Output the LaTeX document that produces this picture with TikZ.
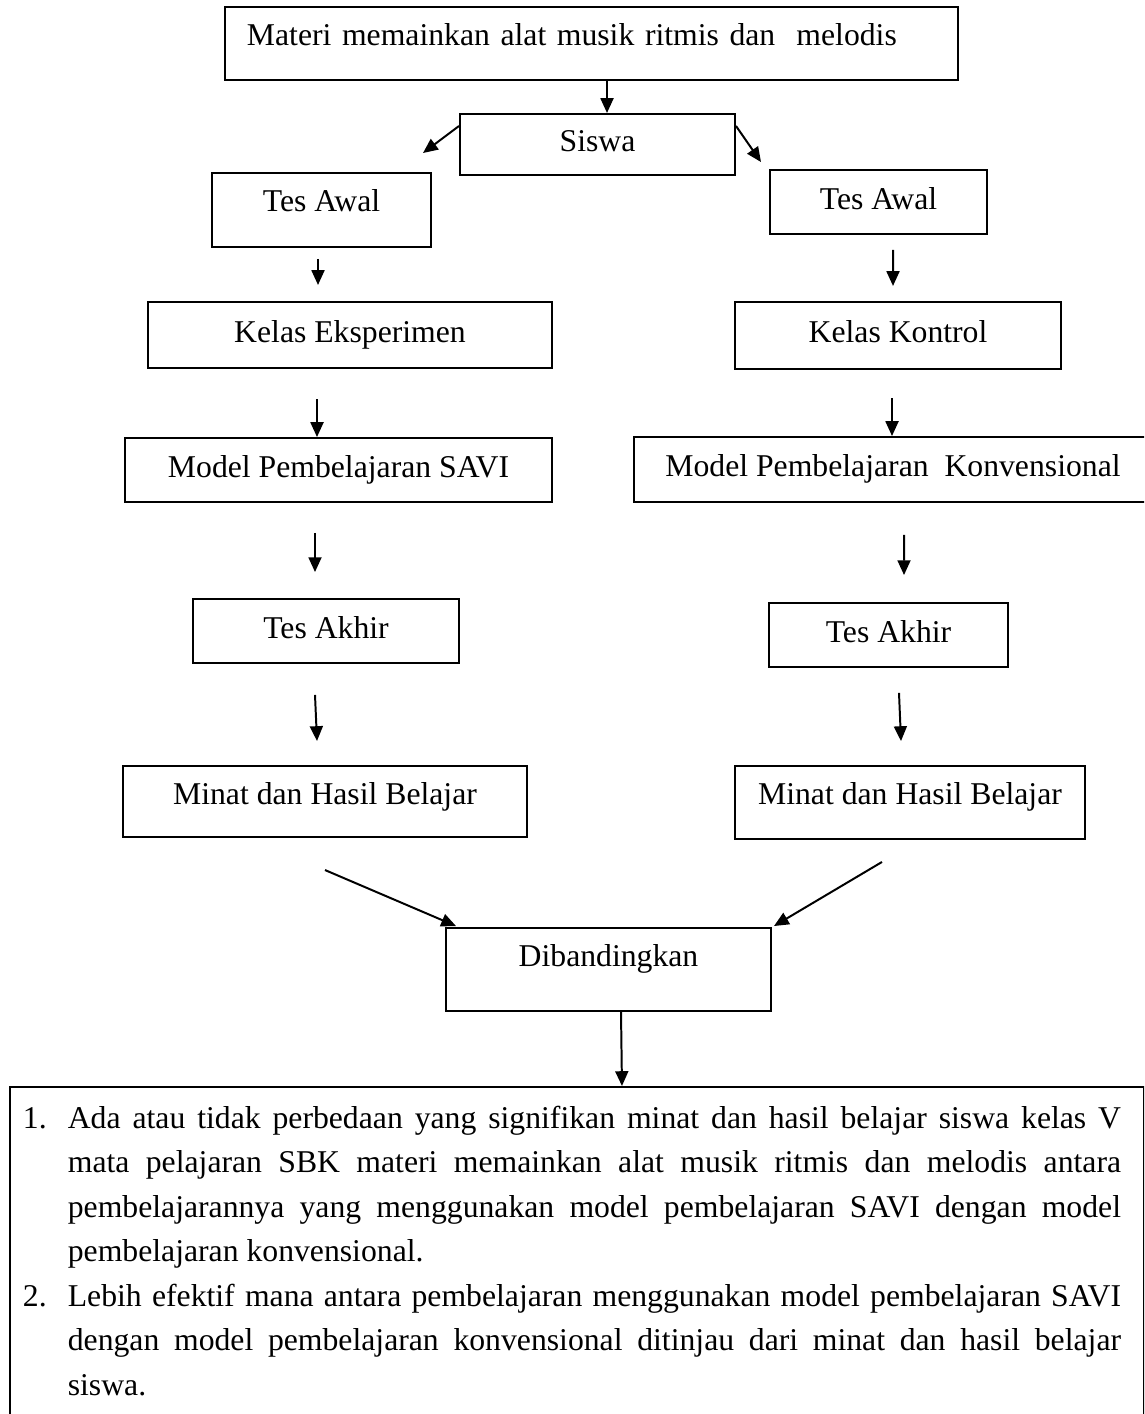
\documentclass[tikz,border=0pt]{standalone}
\usepackage{fontspec}
\setmainfont{Liberation Serif}
\usetikzlibrary{arrows.meta, calc}

\begin{document}
\begin{tikzpicture}[
    x=0.3785pt, y=-0.3785pt,
    box/.style={rectangle, draw, line width=0.75pt, inner sep=0pt, text height=8.2pt, text depth=2.6pt, align=center, font=\fontsize{12pt}{14pt}\selectfont},
    listbox/.style={rectangle, draw, line width=0.75pt, anchor=north west, text width=419.4pt, inner xsep=4.9pt, inner ysep=7.2pt, align=justify, font=\fontsize{12pt}{16.84pt}\selectfont},
    arrow/.style={line width=0.75pt, -{Triangle[length=5.6pt, width=4.9pt]}}
]
    \path[use as bounding box, clip] (0,0) rectangle (1144,1414);

    \node (materi) [box, minimum height=27.6pt, text width=260.8pt, inner xsep=8.3pt, text depth=6.4pt, align=left] at (591.5,43.5) {Materi memainkan alat musik ritmis dan\ \ melodis};
    \node (siswa) [box, minimum width=104.1pt, minimum height=23.1pt] at (597.5,144.5) {Siswa};
    \node (awalL) [box, minimum width=82.9pt, minimum height=28pt, text depth=6.8pt] at (321.5,210) {Tes Awal};
    \node (awalR) [box, minimum width=82.1pt, minimum height=24.2pt] at (878.5,202) {Tes Awal};
    \node (kelasE) [box, minimum width=152.9pt, minimum height=25pt] at (350,335) {Kelas Eksperimen};
    \node (kelasK) [box, minimum width=123.4pt, minimum height=25.4pt] at (898,335.5) {Kelas Kontrol};
    \node (savi) [box, minimum width=161.6pt, minimum height=24.2pt] at (338.5,470) {Model Pembelajaran SAVI};
    \node (konv) [box, minimum width=196.1pt, minimum height=24.6pt] at (893,469.5) {Model Pembelajaran\ \ Konvensional};
    \node (akhirL) [box, minimum width=100.7pt, minimum height=24.2pt] at (326,631) {Tes Akhir};
    \node (akhirR) [box, minimum width=90.5pt, minimum height=24.2pt] at (888.5,635) {Tes Akhir};
    \node (minatL) [box, minimum width=152.9pt, minimum height=26.9pt, text depth=5.6pt] at (325,801.5) {Minat dan Hasil Belajar};
    \node (minatR) [box, minimum width=132.5pt, minimum height=27.6pt, text depth=6.4pt] at (910,802.5) {Minat dan Hasil Belajar};
    \node (banding) [box, minimum width=123pt, minimum height=31.4pt, text depth=10.2pt] at (608.5,969.5) {Dibandingkan};
    \node (hasil) [listbox] at (9,1086) {\parindent=0pt\rightskip=3.8pt
        \hangindent=17pt\hangafter=1\makebox[17pt][l]{1.}Ada atau tidak perbedaan yang signifikan minat dan hasil belajar siswa kelas V\linebreak
        mata pelajaran SBK materi memainkan alat musik ritmis dan melodis antara\linebreak
        pembelajarannya yang menggunakan model pembelajaran SAVI dengan model\linebreak
        pembelajaran konvensional.\par
        \hangindent=17pt\hangafter=1\makebox[17pt][l]{2.}Lebih efektif mana antara pembelajaran menggunakan model pembelajaran SAVI\linebreak
        dengan model pembelajaran konvensional ditinjau dari minat dan hasil belajar\linebreak
        siswa.\par};

    \coordinate (tipL) at ($(awalL.north)+(101.5,-19)$);
    \coordinate (tipR) at ($(awalR.north)+(-117.5,-7)$);

    \draw [arrow] ($(materi.south)+(15.5,0)$) -- ($(siswa.north)+(9.5,0)$);
    \draw [arrow] ($(siswa.north west)+(0,13)$) -- (tipL);
    \draw [arrow] ($(siswa.north east)+(0,13)$) -- (tipR);
    \draw [arrow] ($(awalL.south)+(-3.5,11)$) -- ($(kelasE.north)+(-32,-16)$);
    \draw [arrow] ($(awalR.south)+(14.5,15)$) -- ($(kelasK.north)+(-5,-15)$);
    \draw [arrow] ($(kelasE.south)+(-33,30)$) -- ($(savi.north)+(-21.5,0)$);
    \draw [arrow] ($(kelasK.south)+(-6,28)$) -- ($(konv.north)+(-1,0)$);
    \draw [arrow] ($(savi.south)+(-23.5,30)$) -- ($(akhirL.north)+(-11,-26)$);
    \draw [arrow] ($(konv.south)+(11,32)$) -- ($(akhirR.north)+(15.5,-27)$);
    \draw [arrow] ($(akhirL.south)+(-11,31)$) -- ($(minatL.north)+(-8,-24)$);
    \draw [arrow] ($(akhirR.south)+(10.5,25)$) -- ($(minatR.north)+(-9,-24)$);
    \draw [arrow] ($(minatL.south)+(0,32)$) -- ($(banding.north west)+(11,-1)$);
    \draw [arrow] ($(minatR.south)+(-28,22)$) -- ($(banding.north east)+(2,-1)$);
    \draw [arrow] ($(banding.south)+(12.5,0)$) -- ($(hasil.north)+(45,0)$);
\end{tikzpicture}
\end{document}
